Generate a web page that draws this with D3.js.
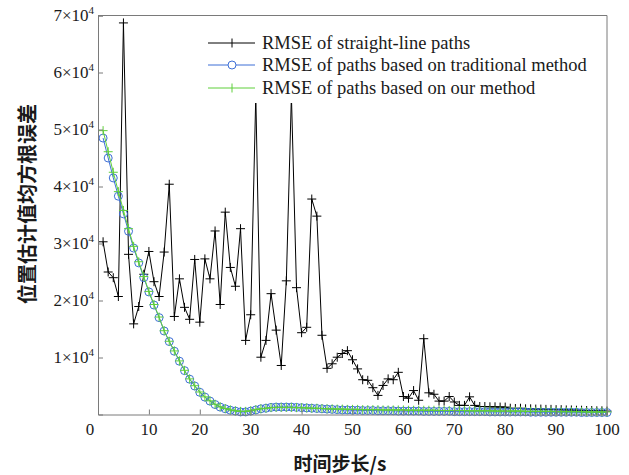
<!DOCTYPE html>
<html>
<head>
<meta charset="utf-8">
<script src="https://cdn.jsdelivr.net/npm/d3@7"></script>
<style>
  body { margin: 0; background: #fff; }
  svg { display: block; }
</style>
</head>
<body>
<div id="chart"></div>
<script>
// step index 1..100
var steps = d3.range(1, 101);

// RMSE of straight-line paths
var straightRmse = [
  30300, 25000, 24000, 20700, 68700, 28100, 15900, 18950, 24600, 28600,
  23300, 20700, 28500, 40400, 17200, 23800, 18800, 16700, 27200, 16200,
  27300, 23800, 32200, 19300, 35500, 25800, 22500, 32600, 13000, 17500,
  56000, 10050, 13000, 21200, 14800, 8600, 23450, 56000, 22250, 14350,
  15300, 37800, 34800, 13900, 8100, 8900, 10050, 10700, 11200, 9600,
  8000, 6100, 6000, 4700, 3350, 5100, 6250, 6100, 7400, 3150,
  2850, 4200, 2500, 13300, 3800, 3550, 2350, 2350, 3150, 2200,
  1600, 1600, 3100, 1600, 1400, 1400, 1350, 1350, 1300, 1300,
  1100, 1050, 1100, 1000, 1000, 950, 950, 900, 900, 850,
  850, 800, 800, 750, 750, 700, 700, 650, 650, 600
];

// RMSE of paths based on traditional method
var traditionalRmse = [
  48500, 45000, 41500, 38300, 35200, 32150, 29200, 26600, 24000, 21500,
  19200, 17000, 14650, 12800, 11100, 9350, 7700, 6200, 5000, 3900,
  3050, 2350, 1750, 1300, 1000, 750, 600, 450, 450, 600,
  800, 1000, 1100, 1250, 1300, 1300, 1300, 1300, 1250, 1200,
  1150, 1100, 1050, 1000, 950, 900, 850, 800, 800, 750,
  750, 700, 700, 700, 650, 650, 650, 650, 600, 600,
  600, 600, 600, 550, 550, 550, 550, 550, 550, 500,
  500, 500, 500, 500, 500, 500, 450, 450, 450, 450,
  450, 450, 450, 450, 400, 400, 400, 400, 400, 400,
  400, 400, 400, 400, 350, 350, 350, 350, 350, 350
];

// RMSE of paths based on our method
var oursRmse = [
  49800, 46100, 42500, 39100, 35800, 32600, 29500, 26800, 24200, 21600,
  19300, 17100, 14700, 12850, 11150, 9400, 7750, 6250, 5050, 3950,
  3100, 2400, 1800, 1350, 1050, 800, 650, 550, 550, 650,
  850, 1000, 1100, 1200, 1250, 1250, 1250, 1250, 1200, 1200,
  1150, 1100, 1100, 1050, 1000, 1000, 950, 950, 900, 900,
  900, 850, 850, 850, 850, 800, 800, 800, 800, 800,
  750, 750, 750, 750, 750, 750, 700, 700, 700, 700,
  700, 700, 650, 650, 650, 650, 650, 600, 600, 600,
  600, 600, 600, 550, 550, 550, 550, 550, 550, 500,
  500, 500, 500, 500, 500, 450, 450, 450, 450, 450
];

var yTicks = [10000, 20000, 30000, 40000, 50000, 60000, 70000];
var yTickMant = ["1", "2", "3", "4", "5", "6", "7"];
var xTicks = [10, 20, 30, 40, 50, 60, 70, 80, 90, 100];

var legendLabels = [
  "RMSE of straight-line paths",
  "RMSE of paths based on traditional method",
  "RMSE of paths based on our method"
];

var xLabel = "时间步长/s";
var yLabel = "位置估计值均方根误差";

var W = 629, H = 475;
var colors = { black: "#000", blue: "#3d6fd6", green: "#5fcf3a", axis: "#7a7a7a" };
var serif = "'Liberation Serif', 'Times New Roman', serif";
var cjk = "'Noto Sans CJK SC', sans-serif";

var svg = d3.select("#chart").append("svg")
  .attr("width", W)
  .attr("height", H);

var x = d3.scaleLinear().domain([0, 100]).range([98, 607]);
var y = d3.scaleLinear().domain([0, 70000]).range([414.5, 15.5]);

//Linhas
var line = d3.line()
  .x(function(d) { return x(d[0]); })
  .y(function(d) { return y(d[1]); });

function pairs(vals) {
  return steps.map(function(s, i) { return [s, vals[i]]; });
}

var plot = svg.append("g");

function plusMarkers(g, data, color, r) {
  g.selectAll(null)
    .data(data)
    .enter()
    .append("path")
    .attr("d", function(d) {
      var cx = x(d[0]), cy = y(d[1]);
      return "M" + (cx - r) + "," + cy + "H" + (cx + r) + "M" + cx + "," + (cy - r) + "V" + (cy + r);
    })
    .attr("stroke", color)
    .attr("stroke-width", 1)
    .attr("fill", "none");
}

// straight-line series
var blackData = pairs(straightRmse);
plot.append("path")
  .attr("d", line(blackData))
  .attr("fill", "none")
  .attr("stroke", colors.black)
  .attr("stroke-width", 1);
plusMarkers(plot.append("g"), blackData, colors.black, 4.5);

// traditional method
var blueData = pairs(traditionalRmse);
plot.append("path")
  .attr("d", line(blueData))
  .attr("fill", "none")
  .attr("stroke", colors.blue)
  .attr("stroke-width", 1);
plot.append("g").selectAll("circle")
  .data(blueData)
  .enter()
  .append("circle")
  .attr("cx", function(d) { return x(d[0]); })
  .attr("cy", function(d) { return y(d[1]); })
  .attr("r", 4)
  .attr("fill", "none")
  .attr("stroke", colors.blue)
  .attr("stroke-width", 1);

// our method
var greenData = pairs(oursRmse);
plot.append("path")
  .attr("d", line(greenData))
  .attr("fill", "none")
  .attr("stroke", colors.green)
  .attr("stroke-width", 1);
plusMarkers(plot.append("g"), greenData, colors.green, 4.5);

//Eixos
var axisLeft = svg.append("g")
  .attr("transform", "translate(" + x(0) + ",0)")
  .call(d3.axisLeft(y).tickValues(yTicks).tickSize(-5).tickFormat(""));
var axisBottom = svg.append("g")
  .attr("transform", "translate(0," + y(0) + ")")
  .call(d3.axisBottom(x).tickValues(xTicks).tickSize(-5).tickFormat(""));
[axisLeft, axisBottom].forEach(function(a) {
  a.selectAll("line, path").attr("stroke", colors.axis);
});

// box top and right
svg.append("line")
  .attr("x1", x(0)).attr("x2", x(100))
  .attr("y1", y(70000)).attr("y2", y(70000))
  .attr("stroke", colors.axis);
svg.append("line")
  .attr("x1", x(100)).attr("x2", x(100))
  .attr("y1", y(0)).attr("y2", y(70000))
  .attr("stroke", colors.axis);

// y tick labels "n×10^4"
yTicks.forEach(function(v, i) {
  var t = svg.append("text")
    .attr("x", x(0) - 4)
    .attr("y", y(v) + 5)
    .attr("text-anchor", "end")
    .attr("font-family", serif)
    .attr("font-size", 17)
    .attr("fill", "#1a1a1a");
  t.append("tspan").text(yTickMant[i] + "×10");
  t.append("tspan").attr("dy", -7).attr("font-size", 11).text("4");
});

// x tick labels
svg.selectAll(".xlab")
  .data(xTicks)
  .enter()
  .append("text")
  .attr("class", "xlab")
  .attr("x", function(d) { return x(d); })
  .attr("y", 435)
  .attr("text-anchor", "middle")
  .attr("font-family", serif)
  .attr("font-size", 17)
  .attr("fill", "#1a1a1a")
  .text(function(d) { return d; });
svg.append("text")
  .attr("x", x(0) - 8)
  .attr("y", 435)
  .attr("text-anchor", "middle")
  .attr("font-family", serif)
  .attr("font-size", 17)
  .attr("fill", "#1a1a1a")
  .text("0");

// axis titles
svg.append("text")
  .attr("x", 340)
  .attr("y", 471)
  .attr("text-anchor", "middle")
  .attr("font-family", cjk)
  .attr("font-weight", "bold")
  .attr("font-size", 19)
  .attr("fill", "#1a1a1a")
  .text(xLabel);
svg.append("text")
  .attr("transform", "translate(35,204) rotate(-90)")
  .attr("text-anchor", "middle")
  .attr("font-family", cjk)
  .attr("font-weight", "bold")
  .attr("font-size", 20)
  .attr("fill", "#1a1a1a")
  .text(yLabel);

//Legenda
var legend = svg.append("g");
legend.append("rect")
  .attr("x", 200).attr("y", 28)
  .attr("width", 404).attr("height", 75)
  .attr("fill", "#fff");
var legendColors = [colors.black, colors.blue, colors.green];
var legendY = [43, 65, 88];
legendLabels.forEach(function(lab, i) {
  var ly = legendY[i];
  legend.append("line")
    .attr("x1", 208).attr("x2", 255)
    .attr("y1", ly).attr("y2", ly)
    .attr("stroke", legendColors[i]);
  if (i === 1) {
    legend.append("circle")
      .attr("cx", 232).attr("cy", ly).attr("r", 4)
      .attr("fill", "#fff").attr("stroke", legendColors[i]);
  } else {
    legend.append("line")
      .attr("x1", 232).attr("x2", 232)
      .attr("y1", ly - 4.5).attr("y2", ly + 4.5)
      .attr("stroke", legendColors[i]);
  }
  legend.append("text")
    .attr("x", 262)
    .attr("y", ly + 6)
    .attr("font-family", serif)
    .attr("font-size", 18.5)
    .attr("fill", "#1a1a1a")
    .text(lab);
});
</script>
</body>
</html>
